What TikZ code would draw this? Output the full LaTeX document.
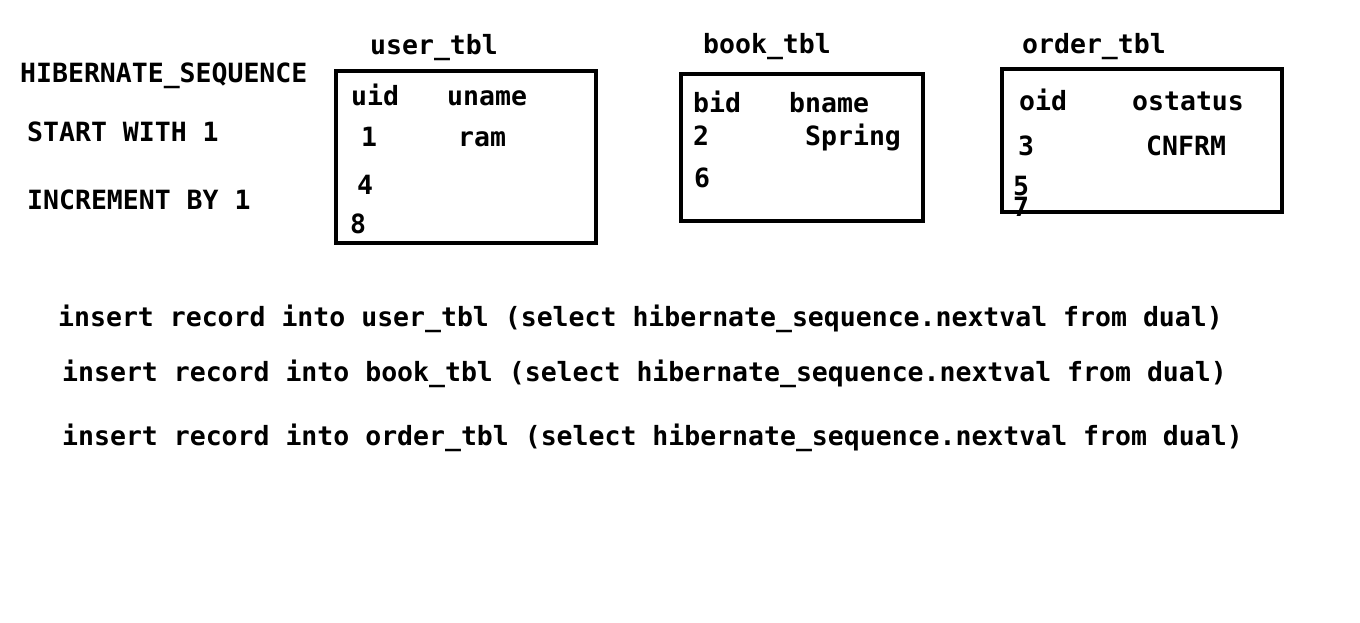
\documentclass[tikz,border=0pt]{standalone}
\usepackage{fontspec}
\newfontfamily\seqfont{DejaVu Sans Mono}
\tikzset{
  txt/.style={anchor=base west, inner sep=0pt, font=\seqfont\bfseries\fontsize{26.5}{30}\selectfont},
  tblbox/.style={line width=4pt}
}
\begin{document}
\begin{tikzpicture}[x=1pt,y=-1pt]
  \useasboundingbox (0,0) rectangle (1360,622);

  % sequence
  \node[txt] (seq) at (20,82) {HIBERNATE\_SEQUENCE};
  \node[txt] (start) at (27,141) {START WITH 1};
  \node[txt] (incr) at (27,209) {INCREMENT BY 1};

  % user_tbl
  \node[txt] (utitle) at (370,54) {user\_tbl};
  \node[txt] (uid) at (351,105) {uid};
  \node[txt] (uname) at (447,105) {uname};
  \node[txt] (u1) at (361,146) {1};
  \node[txt] (uram) at (458,146) {ram};
  \node[txt] (u4) at (357,194) {4};
  \node[txt] (u8) at (350,233) {8};
  \draw[tblbox] (336,71) rectangle (596,243);

  % book_tbl
  \node[txt] (btitle) at (703,53) {book\_tbl};
  \node[txt] (bid) at (693,112) {bid};
  \node[txt] (bname) at (789,112) {bname};
  \node[txt] (b2) at (693,145) {2};
  \node[txt] (bspring) at (805,145) {Spring};
  \node[txt] (b6) at (694,187) {6};
  \draw[tblbox] (681,74) rectangle (923,221);

  % order_tbl
  \node[txt] (otitle) at (1022,53) {order\_tbl};
  \node[txt] (oid) at (1019,110) {oid};
  \node[txt] (ostatus) at (1132,110) {ostatus};
  \node[txt] (o3) at (1018,155) {3};
  \node[txt] (ocnfrm) at (1146,155) {CNFRM};
  \node[txt] (o5) at (1013,195) {5};
  \node[txt] (o7) at (1013,216) {7};
  \draw[tblbox] (1002,69) rectangle (1282,212);

  % inserts
  \node[txt] (ins1) at (58,326) {insert record into user\_tbl (select hibernate\_sequence.nextval from dual)};
  \node[txt] (ins2) at (62,381) {insert record into book\_tbl (select hibernate\_sequence.nextval from dual)};
  \node[txt] (ins3) at (62,445) {insert record into order\_tbl (select hibernate\_sequence.nextval from dual)};
\end{tikzpicture}
\end{document}
